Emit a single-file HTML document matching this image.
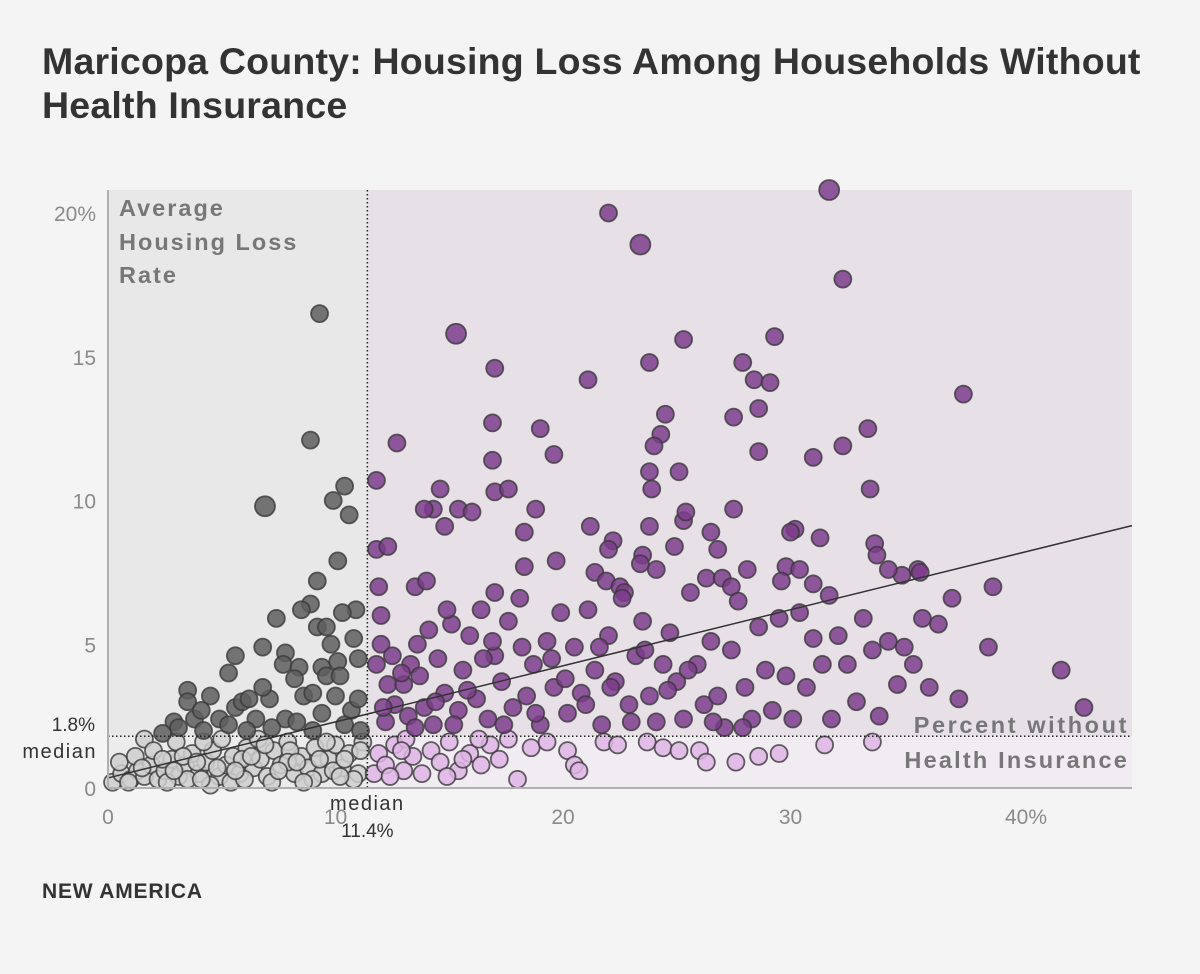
<!DOCTYPE html>
<html><head><meta charset="utf-8"><style>
body{margin:0;background:#f4f4f4;font-family:"Liberation Sans",sans-serif;}
#wrap{position:relative;width:1200px;height:974px;overflow:hidden;}
h1{position:absolute;left:42px;top:39px;margin:0;font-size:37.5px;line-height:44px;font-weight:bold;color:#333;letter-spacing:0.2px;}
.foot{position:absolute;left:42px;top:880px;font-size:21px;font-weight:bold;color:#333;letter-spacing:0.8px;}
</style></head><body>
<div id="wrap">
<h1>Maricopa County: Housing Loss Among Households Without<br>Health Insurance</h1>
<svg id="chart" width="1200" height="974" style="position:absolute;left:0;top:0"></svg>
<div class="foot">NEW AMERICA</div>
</div>
<script>
const medianX = 11.4;
const medianY = 1.8;
const trendIntercept = 0.35;
const trendSlope = 0.195;
const xTicks = [0, 10, 20, 30, 40];
const xTickLabels = ["0", "10", "20", "30", "40%"];
const yTicks = [0, 5, 10, 15, 20];
const yTickLabels = ["0", "5", "10", "15", "20%"];
const lowLeftX = [0.2,0.6,1,1.3,1.6,1.9,2.2,2.5,2.8,3.1,3.4,3.7,4,4.3,4.6,4.9,5.2,5.5,5.8,6.1,6.4,6.7,7,7.3,7.6,7.9,8.2,8.5,8.8,9.1,9.4,9.7,10,10.3,10.6,11,11.2,1.6,0.5,2,3,4.2,5,6.6,7.2,8,9,10.8,2.6,5.4,3.5,4.5,6,8.6,9.9,3.3,5.9,7.9,1.2,2.4,4.1,6.9,9.6,10.4,0.9,1.5,2.9,3.9,4.8,5.6,6.3,7.5,8.3,9.3,10.2,11.1];
const lowLeftY = [0.2,0.5,0.3,0.6,0.4,0.8,0.3,0.6,1,0.4,0.8,1.2,0.5,0.9,1.3,0.4,0.8,1.1,0.5,1.4,0.7,1,0.4,1.3,0.8,1.6,0.5,1.1,0.7,1.4,0.5,1,1.5,0.7,1.2,0.5,1.6,1.7,0.9,1.3,1.6,1.6,1.7,1.7,0.2,1.3,0.3,0.3,0.2,0.2,0.3,0.1,0.3,0.2,0.6,1.1,1,0.9,1.1,1,0.3,1.5,1.6,1.0,0.2,0.7,0.6,0.9,0.7,0.6,1.1,0.6,0.9,1.0,0.4,1.3];
const lowRightX = [11.7,11.9,12.2,12.6,13,13.4,13.8,14.2,14.6,15,15.4,15.9,16.4,16.8,17.2,18,18.6,19.3,20.2,20.5,20.7,21.8,22.4,23.7,24.4,25.1,26,26.3,27.6,28.6,29.5,31.5,33.6,12.4,13.1,14.9,16.3,17.6,12.9,15.6];
const lowRightY = [0.5,1.2,0.8,1.5,0.6,1.1,0.5,1.3,0.9,1.6,0.6,1.2,0.8,1.5,1,0.3,1.4,1.6,1.3,0.8,0.6,1.6,1.5,1.6,1.4,1.3,1.3,0.9,0.9,1.1,1.2,1.5,1.6,0.4,1.7,0.4,1.7,1.7,1.3,1.0];
const highLeftX = [9.3,8.9,6.9,9.9,10.4,10.6,10.1,9.2,8.9,8.5,7.4,10.9,10.3,9.2,9.6,6.8,5.6,7.8,7.7,8.4,9.4,9.6,10.1,11,10.2,5.3,4.5,3.5,3.5,2.9,3.8,4.9,5.6,5.9,6.2,7.1,8.6,9,7.8,6.5,9.4,10,10.7,3.1,4.2,5.3,6.1,7.2,8.3,9,10.4,11.1,2.4,10.8,9.8,8.2,4.1,6.8,11];
const highLeftY = [16.5,12.1,9.8,10,10.5,9.5,7.9,7.2,6.4,6.2,5.9,6.2,6.1,5.6,5.6,4.9,4.6,4.7,4.3,4.2,4.2,3.9,4.4,4.5,3.9,4,3.2,3.4,3,2.3,2.4,2.4,2.8,3,3.1,3.1,3.2,3.3,2.4,2.4,2.6,3.2,2.7,2.1,2,2.2,2,2.1,2.3,2,2.2,2,1.9,5.2,5,3.8,2.7,3.5,3.1];
const highRightX = [31.7,22,23.4,32.3,15.3,25.3,29.3,17,23.8,27.9,21.1,28.4,29.1,37.6,24.5,28.6,12.7,16.9,19,27.5,24.3,33.4,24,28.6,32.3,31,19.6,16.9,23.8,25.1,11.8,14.6,17,17.6,23.9,33.5,14.3,15.4,13.9,14.8,16,18.8,21.2,23.8,25.3,25.4,26.5,27.5,30.2,30,31.3,33.7,18.3,22.2,22,23.5,24.9,26.8,11.8,12.3,33.8,23.4,24.1,29.8,17,13.5,14,18.3,19.7,21.4,21.9,22.5,22.7,26.3,27,27.4,28.1,29.6,30.4,35.6,34.9,34.3,35.7,38.9,31.7,31,37.1,
12,12,11.8,12.3,12.6,12.2,13,13.3,13.6,13.9,14.3,14.5,14.8,15.1,15.4,15.6,15.9,16.2,16.4,16.7,17,17.3,17.6,17.8,18.1,18.4,18.7,19,19.3,19.6,19.9,20.2,20.5,20.8,21.1,21.4,21.7,22,22.3,22.6,22.9,23.2,23.5,23.8,24.1,24.4,24.7,25,25.3,25.6,25.9,26.2,26.5,26.8,27.1,27.4,27.7,28,28.3,28.6,28.9,29.2,29.5,29.8,30.1,30.4,30.7,31,31.4,31.8,32.1,32.5,32.9,33.2,33.6,33.9,34.3,34.7,35,35.4,35.8,36.1,36.5,37.4,38.7,41.9,42.9,
12.5,13.2,13.7,14.1,14.4,15.2,15.8,16.5,16.9,17.4,18.2,18.8,19.5,20.1,21,21.6,22.1,23,23.6,24.6,25.5,26.6,27.9,12.1,12.9,13.5,14.9,11.9];
const highRightY = [20.8,20,18.9,17.7,15.8,15.6,15.7,14.6,14.8,14.8,14.2,14.2,14.1,13.7,13,13.2,12,12.7,12.5,12.9,12.3,12.5,11.9,11.7,11.9,11.5,11.6,11.4,11,11,10.7,10.4,10.3,10.4,10.4,10.4,9.7,9.7,9.7,9.1,9.6,9.7,9.1,9.1,9.3,9.6,8.9,9.7,9,8.9,8.7,8.5,8.9,8.6,8.3,8.1,8.4,8.3,8.3,8.4,8.1,7.8,7.6,7.7,6.8,7,7.2,7.7,7.9,7.5,7.2,7,6.8,7.3,7.3,7,7.6,7.2,7.6,7.6,7.4,7.6,7.5,7,6.7,7.1,6.6,
6,5,4.3,3.6,2.9,2.3,3.6,4.3,5,2.8,2.2,4.5,3.3,5.7,2.7,4.1,5.3,3.1,6.2,2.4,4.6,3.7,5.8,2.8,6.6,3.2,4.3,2.2,5.1,3.5,6.1,2.6,4.9,3.3,6.2,4.1,2.2,5.3,3.7,6.6,2.9,4.6,5.8,3.2,2.3,4.3,5.4,3.7,2.4,6.8,4.3,2.9,5.1,3.2,2.1,4.8,6.5,3.5,2.4,5.6,4.1,2.7,5.9,3.9,2.4,6.1,3.5,5.2,4.3,2.4,5.3,4.3,3,5.9,4.8,2.5,5.1,3.6,4.9,4.3,5.9,3.5,5.7,3.1,4.9,4.1,2.8,
4.6,2.5,3.9,5.5,3,2.2,3.4,4.5,5.1,2.2,4.9,2.6,4.5,3.8,2.9,4.9,3.5,2.3,4.8,3.4,4.1,2.3,2.1,2.8,4,2.1,6.2,7];
const bigPoints = [20.8,18.9,9.8,15.8];

const NS = "http://www.w3.org/2000/svg";
const svg = document.getElementById("chart");
const L = 108, R = 1132, T = 190, B = 788;
const xScale = v => L + v * 22.75;
const yScale = v => B - v * 28.75;
function mk(tag, attrs, parent) {
  const e = document.createElementNS(NS, tag);
  for (const k in attrs) e.setAttribute(k, attrs[k]);
  (parent || svg).appendChild(e);
  return e;
}
const mx = xScale(medianX), my = yScale(medianY);
let r;
r = mk("rect", {x: L, y: T, width: mx - L, height: my - T, fill: "#e8e8e8"});


r = mk("rect", {x: mx, y: T, width: R - mx, height: my - T, fill: "#e7e1e7"});


r = mk("rect", {x: L, y: my, width: mx - L, height: B - my, fill: "#ececec"});


r = mk("rect", {x: mx, y: my, width: R - mx, height: B - my, fill: "#f1ecf1"});



const gPts = mk("g", {});


function drawSet(xs, ys, fill, name) {
  for (let i = 0; i < xs.length; i++) {
    const big = bigPoints.indexOf(ys[i]) >= 0;
    const c = mk("circle", {cx: xScale(xs[i]), cy: yScale(ys[i]), r: big ? 10 : 8.5, fill: fill, "fill-opacity": 0.85, stroke: "#3a3a3a", "stroke-opacity": 0.8, "stroke-width": 1.8}, gPts);
    
    
  }
}
drawSet(lowLeftX, lowLeftY, "#cfcfcf", "point-low-uninsured-low-loss");
drawSet(lowRightX, lowRightY, "#dfb5e6", "point-high-uninsured-low-loss");
drawSet(highLeftX, highLeftY, "#5e5e5e", "point-low-uninsured-high-loss");
drawSet(highRightX, highRightY, "#7d3c8c", "point-high-uninsured-high-loss");

let ln;
ln = mk("line", {x1: xScale(0), y1: yScale(trendIntercept), x2: R, y2: yScale(trendIntercept + trendSlope * (R - L) / 22.75), stroke: "#333", "stroke-width": 1.5});


ln = mk("line", {x1: mx, y1: T, x2: mx, y2: B, stroke: "#222", "stroke-width": 1.5, "stroke-dasharray": "1.5,2.5"});


ln = mk("line", {x1: L, y1: my, x2: R, y2: my, stroke: "#222", "stroke-width": 1.5, "stroke-dasharray": "1.5,2.5"});


ln = mk("line", {x1: L, y1: T, x2: L, y2: B, stroke: "#b0b0b0", "stroke-width": 2});


ln = mk("line", {x1: L, y1: B, x2: R, y2: B, stroke: "#b0b0b0", "stroke-width": 2});



function txt(s, x, y, attrs, name) {
  const t = mk("text", Object.assign({x: x, y: y, "font-family": "Liberation Sans, sans-serif"}, attrs));
  t.textContent = s;
  
  
  return t;
}
for (let i = 0; i < xTicks.length; i++) {
  txt(xTickLabels[i], xScale(xTicks[i]) + (i === xTicks.length - 1 ? 8 : 0), 824, {"font-size": 21, fill: "#8a8a8a", "text-anchor": "middle"}, "x-tick-label");
}
for (let i = 0; i < yTicks.length; i++) {
  txt(yTickLabels[i], 96, yScale(yTicks[i]) + 8, {"font-size": 21, fill: "#8a8a8a", "text-anchor": "end"}, "y-tick-label");
}
const lab = {"font-size": 23.5, "font-weight": "bold", fill: "#777", "letter-spacing": 2};
txt("Average", 119, 216, lab, "y-quadrant-label");
txt("Housing Loss", 119, 250, lab, "y-quadrant-label");
txt("Rate", 119, 283, lab, "y-quadrant-label");
txt("Percent without", 1129, 733, Object.assign({"text-anchor": "end"}, lab, {"letter-spacing": 2.6}), "x-quadrant-label");
txt("Health Insurance", 1129, 768, Object.assign({"text-anchor": "end"}, lab, {"letter-spacing": 2.2}), "x-quadrant-label");
txt("1.8%", 95, 731, {"font-size": 19, fill: "#333", "text-anchor": "end"}, "median-y-value");
txt("median", 97, 758, {"font-size": 20, fill: "#333", "text-anchor": "end", "letter-spacing": 1.5}, "median-y-label");
txt("median", mx, 810, {"font-size": 20, fill: "#333", "text-anchor": "middle", "letter-spacing": 1.5}, "median-x-label");
txt("11.4%", mx, 837, {"font-size": 19, fill: "#333", "text-anchor": "middle"}, "median-x-value");
</script>
</body></html>
